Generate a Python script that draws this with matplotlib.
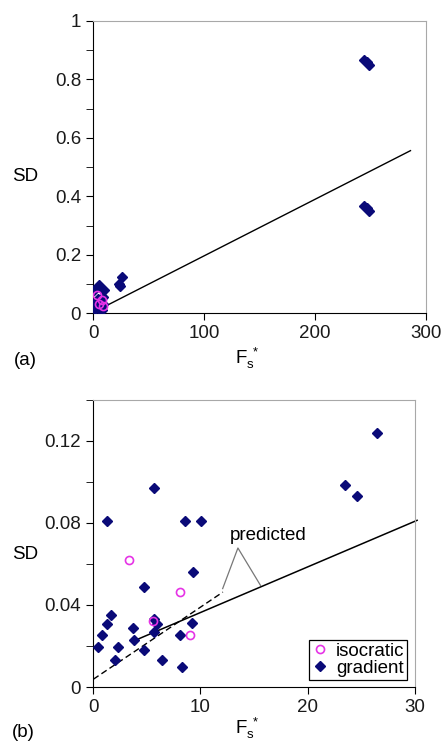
import numpy as np
import matplotlib
matplotlib.use('Agg')
from matplotlib import pyplot as plt
from matplotlib.ticker import MultipleLocator

plt.rcParams['font.family'] = ['Liberation Sans', 'DejaVu Sans']
plt.rcParams['mathtext.fontset'] = 'custom'
plt.rcParams['mathtext.rm'] = 'Liberation Sans'
plt.rcParams['mathtext.it'] = 'Liberation Sans'

# gradient runs, low F_s* region (shown in both panels)
grad_x = [26.5, 23.5, 24.6, 5.71, 1.30, 8.60, 10.03, 9.32, 4.72, 1.65, 1.30, 0.84,
          0.43, 2.30, 2.02, 3.73, 3.79, 4.72, 5.71, 5.96, 5.71, 6.43, 8.14, 8.32, 9.19]
grad_y = [0.1237, 0.0985, 0.0930, 0.0969, 0.0810, 0.0810, 0.0810, 0.0559, 0.0486,
          0.0351, 0.0306, 0.0252, 0.0193, 0.0197, 0.0133, 0.0289, 0.0229, 0.0182,
          0.0332, 0.0309, 0.0270, 0.0133, 0.0252, 0.0099, 0.0312]
# gradient runs at high F_s* (only in panel a)
grad_hi_x = [244.0, 246.5, 249.0, 244.0, 246.5, 249.0]
grad_hi_y = [0.866, 0.858, 0.849, 0.368, 0.359, 0.349]
# isocratic runs
iso_x = [3.39, 8.07, 5.56, 9.04]
iso_y = [0.0621, 0.0463, 0.0320, 0.0254]

# predicted lines
pred_a_x = [9, 286]
pred_a_y = [0.020, 0.556]
pred_b_x = [4.07, 30.2]
pred_b_y = [0.0231, 0.0813]
dash_b_x = [0.03, 12.1]
dash_b_y = [0.0038, 0.0463]

navy = '#0a0a78'
magenta = '#e633e6'
fs = 13.5

fig = plt.figure(figsize=(4.41, 7.44), dpi=100)
ax1 = fig.add_axes([0.211, 0.579, 0.755, 0.393])
ax2 = fig.add_axes([0.211, 0.0766, 0.730, 0.3858])


def style(ax):
    for s in ['top', 'right']:
        ax.spines[s].set_color('#a8a8a8')
    for s in ['left', 'bottom']:
        ax.spines[s].set_color('black')
    ax.tick_params(which='both', direction='out', length=5, labelsize=fs,
                   colors='black', labelcolor='#1a1a1a')
    ax.tick_params(axis='y', which='minor', length=5)


# panel (a)
ax1.plot(grad_x + grad_hi_x, grad_y + grad_hi_y, 'D', color=navy, ms=4.8,
         mec=navy, zorder=3)
ax1.plot(iso_x, iso_y, 'o', mfc='none', mec=magenta, ms=5.8, mew=1.2, zorder=4)
ax1.plot(pred_a_x, pred_a_y, '-', color='black', lw=1)
ax1.set_xlim(0, 300)
ax1.set_ylim(0, 1)
ax1.set_xticks([0, 100, 200, 300])
ax1.set_yticks([0, 0.2, 0.4, 0.6, 0.8, 1])
ax1.set_yticklabels(['0', '0.2', '0.4', '0.6', '0.8', '1'])
ax1.yaxis.set_minor_locator(MultipleLocator(0.1))
style(ax1)
ax1.set_ylabel('SD', fontsize=fs, rotation=0, ha='center', va='center')
ax1.yaxis.set_label_coords(-0.204, 0.466)
ax1.set_xlabel(r'F$_{\rm s}^{\ *}$', fontsize=fs, va='center')
ax1.xaxis.set_label_coords(0.462, -0.154)

# panel (b)
ax2.plot(grad_x, grad_y, 'D', color=navy, ms=4.8, mec=navy, zorder=3,
         label='gradient')
ax2.plot(iso_x, iso_y, 'o', mfc='none', mec=magenta, ms=5.8, mew=1.2, zorder=4,
         label='isocratic')
ax2.plot(pred_b_x, pred_b_y, '-', color='black', lw=1.1, clip_on=False)
ax2.plot(dash_b_x, dash_b_y, '--', color='black', lw=1, dashes=(4.5, 2.5))
ax2.plot([12.08, 13.5, 15.6], [0.048, 0.0678, 0.0496], '-', color='#777777',
         lw=0.9)
ax2.text(16.3, 0.0737, 'predicted', fontsize=fs, ha='center', va='center')
ax2.set_xlim(0, 30)
ax2.set_ylim(0, 0.14)
ax2.set_xticks([0, 10, 20, 30])
ax2.set_yticks([0, 0.04, 0.08, 0.12])
ax2.set_yticklabels(['0', '0.04', '0.08', '0.12'])
ax2.yaxis.set_minor_locator(MultipleLocator(0.02))
style(ax2)
ax2.set_ylabel('SD', fontsize=fs, rotation=0, ha='center', va='center')
ax2.yaxis.set_label_coords(-0.211, 0.46)
ax2.set_xlabel(r'F$_{\rm s}^{\ *}$', fontsize=fs, va='center')
ax2.xaxis.set_label_coords(0.478, -0.146)
h, l = ax2.get_legend_handles_labels()
leg = ax2.legend(h[::-1], l[::-1], loc='lower right', fontsize=fs, fancybox=False,
                 edgecolor='black', framealpha=1, borderpad=0.15,
                 labelspacing=0.0, handlelength=0.9, handletextpad=0.4,
                 borderaxespad=0.4)
leg.get_frame().set_linewidth(0.9)

fig.text(0.057, 0.516, '(a)', fontsize=fs, ha='center', va='center')
fig.text(0.053, 0.016, '(b)', fontsize=fs, ha='center', va='center')

fig.savefig('out.png', dpi=100)
